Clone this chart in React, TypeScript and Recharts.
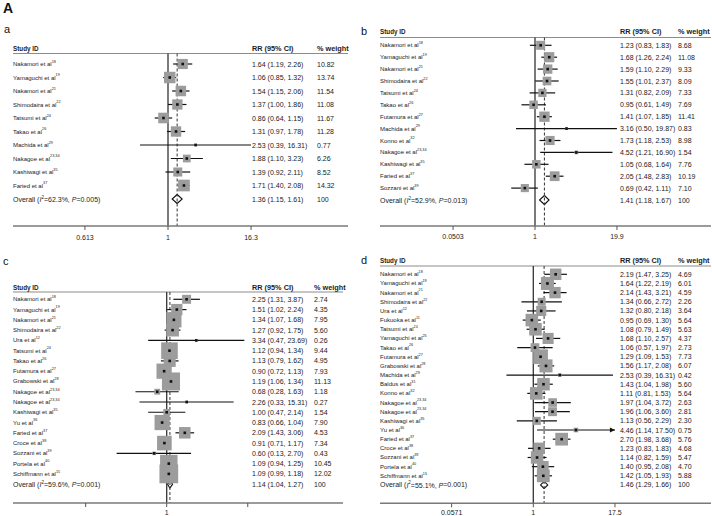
import React from 'react';
import { ComposedChart, XAxis, YAxis, Scatter, ErrorBar, ReferenceLine, ReferenceArea } from 'recharts';

const FONT = '"Liberation Sans", Arial, Helvetica, sans-serif';
const TEXT = '#222';
const BOX = '#9c9c9c';

// ---------- Panel a ----------
const aStudies = ['Nakamori et al', 'Yamaguchi et al', 'Nakamori et al', 'Shimodaira et al', 'Tatsumi et al', 'Takao et al', 'Machida et al', 'Nakagoe et al', 'Kashiwagi et al', 'Faried et al'];
const aRefs = ['18', '19', '21', '22', '24', '26', '29', '23,34', '35', '37'];
const aRR = [1.64, 1.06, 1.54, 1.37, 0.86, 1.31, 2.53, 1.88, 1.39, 1.71];
const aLow = [1.19, 0.85, 1.15, 1.0, 0.64, 0.97, 0.39, 1.1, 0.92, 1.4];
const aHigh = [2.26, 1.32, 2.06, 1.86, 1.15, 1.78, 16.31, 3.23, 2.11, 2.08];
const aWeight = [10.82, 13.74, 11.54, 11.08, 11.67, 11.28, 0.77, 6.26, 8.52, 14.32];
const aOverall = [1.36, 1.15, 1.61];
const aHet = ['62.3%', '0.005'];
const aTickValues = [0.0613, 1, 16.3];
const aTickLabels = ['0.613', '1', '16.3'];

// ---------- Panel b ----------
const bStudies = ['Nakamori et al', 'Yamaguchi et al', 'Nakamori et al', 'Shimodaira et al', 'Tatsumi et al', 'Takao et al', 'Futamura et al', 'Machida et al', 'Konno et al', 'Nakagoe et al', 'Kashiwagi et al', 'Faried et al', 'Sozzani et al'];
const bRefs = ['18', '19', '21', '22', '24', '26', '27', '29', '32', '23,34', '35', '37', '39'];
const bRR = [1.23, 1.68, 1.59, 1.55, 1.31, 0.95, 1.41, 3.16, 1.73, 4.52, 1.05, 2.05, 0.69];
const bLow = [0.83, 1.26, 1.1, 1.01, 0.82, 0.61, 1.07, 0.5, 1.18, 1.21, 0.68, 1.48, 0.42];
const bHigh = [1.83, 2.24, 2.29, 2.37, 2.09, 1.49, 1.85, 19.87, 2.53, 16.9, 1.64, 2.83, 1.11];
const bWeight = [8.68, 11.08, 9.33, 8.09, 7.33, 7.69, 11.41, 0.83, 8.98, 1.54, 7.76, 10.19, 7.1];
const bOverall = [1.41, 1.18, 1.67];
const bHet = ['52.9%', '0.013'];
const bTickValues = [0.0503, 1, 19.9];
const bTickLabels = ['0.0503', '1', '19.9'];

// ---------- Panel c ----------
const cStudies = ['Nakamori et al', 'Yamaguchi et al', 'Nakamori et al', 'Shimodaira et al', 'Ura et al', 'Tatsumi et al', 'Takao et al', 'Futamura et al', 'Grabowski et al', 'Nakagoe et al', 'Nakagoe et al', 'Kashiwagi et al', 'Yu et al', 'Faried et al', 'Croce et al', 'Sozzani et al', 'Portela et al', 'Schiffmann et al'];
const cRefs = ['18', '19', '21', '22', '12', '24', '26', '27', '28', '23,34', '23,34', '35', '36', '37', '38', '39', '40', '15'];
const cRR = [2.25, 1.51, 1.34, 1.27, 3.34, 1.12, 1.13, 0.9, 1.19, 0.68, 2.26, 1.0, 0.83, 2.09, 0.91, 0.6, 1.09, 1.09];
const cLow = [1.31, 1.02, 1.07, 0.92, 0.47, 0.94, 0.79, 0.72, 1.06, 0.28, 0.33, 0.47, 0.66, 1.43, 0.71, 0.13, 0.94, 0.99];
const cHigh = [3.87, 2.24, 1.68, 1.75, 23.69, 1.34, 1.62, 1.13, 1.34, 1.63, 15.31, 2.14, 1.04, 3.06, 1.17, 2.7, 1.25, 1.18];
const cWeight = [2.74, 4.35, 7.95, 5.6, 0.26, 9.44, 4.95, 7.93, 11.13, 1.18, 0.27, 1.54, 7.9, 4.53, 7.34, 0.43, 10.45, 12.02];
const cOverall = [1.14, 1.04, 1.27];
const cHet = ['59.6%', '0.001'];
const cTickValues = [0.0368, 1, 27.2];
const cTickLabels = ['', '1', ''];

// ---------- Panel d ----------
const dStudies = ['Nakamori et al', 'Yamaguchi et al', 'Nakamori et al', 'Shimodaira et al', 'Ura et al', 'Fukuoka et al', 'Tatsumi et al', 'Yamaguchi et al', 'Takao et al', 'Futamura et al', 'Grabowski et al', 'Machida et al', 'Baldus et al', 'Konno et al', 'Nakagoe et al', 'Nakagoe et al', 'Kashiwagi et al', 'Yu et al', 'Faried et al', 'Croce et al', 'Sozzani et al', 'Portela et al', 'Schiffmann et al'];
const dRefs = ['18', '19', '21', '22', '12', '11', '24', '25', '26', '27', '28', '29', '31', '32', '23,34', '23,34', '35', '36', '37', '38', '39', '40', '15'];
const dRR = [2.19, 1.64, 2.14, 1.34, 1.32, 0.95, 1.08, 1.68, 1.06, 1.29, 1.56, 2.53, 1.43, 1.11, 1.97, 1.96, 1.13, 4.46, 2.7, 1.23, 1.14, 1.4, 1.42];
const dLow = [1.47, 1.22, 1.43, 0.66, 0.8, 0.69, 0.79, 1.1, 0.57, 1.09, 1.17, 0.39, 1.04, 0.81, 1.04, 1.06, 0.56, 1.14, 1.98, 0.83, 0.82, 0.95, 1.05];
const dHigh = [3.25, 2.19, 3.21, 2.72, 2.18, 1.3, 1.49, 2.57, 1.97, 1.53, 2.08, 16.31, 1.98, 1.53, 3.72, 3.6, 2.29, 17.5, 3.68, 1.83, 1.59, 2.08, 1.93];
const dWeight = [4.69, 6.01, 4.59, 2.26, 3.64, 5.64, 5.63, 4.37, 2.73, 7.73, 6.07, 0.42, 5.6, 5.64, 2.63, 2.81, 2.3, 0.75, 5.76, 4.68, 5.47, 4.7, 5.88];
const dOverall = [1.46, 1.29, 1.66];
const dHet = ['55.1%', '0.001'];
const dTickValues = [0.0571, 1, 17.5];
const dTickLabels = ['0.0571', '1', '17.5'];
const dArrowLimit = 17.5;

type Layout = {
  L: number; R: number; X0: number; s: number; T: number; B: number;
  y0: number; dy: number; headerY: number; underY: number;
  colRR: number; colW: number; k: number; dh: number; tickMargin: number;
};

const AX_H = 20;
const EXTRA_R = 24;
const FS_NAME = 6;
const FS_NUM = 7;
const FS_HDR_L = 6.3;
const FS_HDR_R = 7.3;
const FS_OVERALL = 7;

const fmt = (v: number) => v.toFixed(2);

type PanelProps = {
  studies: string[]; refs: string[]; rr: number[]; low: number[]; high: number[]; weight: number[];
  overall: number[]; het: string[]; tickValues: number[]; tickLabels: string[]; lay: Layout; arrowLimit?: number;
};

function ForestPanel(p: PanelProps) {
  const { studies, refs, rr, low, high, weight, overall, het, tickValues, tickLabels, lay, arrowLimit } = p;
  const lg = Math.log10;
  const n = studies.length;
  const idx = (px: number) => (px - lay.y0) / lay.dy;
  const topIdx = idx(lay.T);
  const botIdx = idx(lay.B);
  const headerIdx = idx(lay.headerY);
  const underIdx = idx(lay.underY);
  const xMin = (lay.L - lay.X0) / lay.s;
  const xMax = (lay.R - lay.X0) / lay.s;
  const width = lay.R - lay.L + EXTRA_R;
  const height = lay.B - lay.T + AX_H;
  const hIdx = lay.dh / lay.dy;

  const rows = studies.map((s, i) => ({
    x: lg(rr[i]),
    y: i,
    w: weight[i],
    err: [lg(rr[i]) - lg(low[i]), lg(high[i]) - lg(rr[i])],
  }));
  const arrows = arrowLimit ? studies.map((s, i) => ({ x: lg(arrowLimit), y: i, hi: high[i] })).filter((r) => r.hi >= arrowLimit) : [];

  const labelRows = [
    { x: xMin, y: headerIdx, kind: 'h', i: -1 },
    ...studies.map((s, i) => ({ x: xMin, y: i, kind: 's', i })),
    { x: xMin, y: n, kind: 'o', i: n },
  ];

  const xr = lay.colRR - lay.L;
  const xw = lay.colW - lay.L;
  const txt = { fontFamily: FONT, fill: TEXT, dominantBaseline: 'central' as const };

  const labelShape = (props: any) => {
    const { cx, cy, payload } = props;
    const y = cy;
    if (payload.kind === 'h') {
      return (
        <g>
          <text x={cx} y={y} {...txt} fontSize={FS_HDR_L} fontWeight="bold">Study ID</text>
          <text x={cx + xr} y={y} {...txt} fontSize={FS_HDR_R} fontWeight="bold">RR (95% CI)</text>
          <text x={cx + xw} y={y} {...txt} fontSize={FS_HDR_R} fontWeight="bold">% weight</text>
        </g>
      );
    }
    if (payload.kind === 'o') {
      return (
        <g>
          <text x={cx} y={y} {...txt} fontSize={FS_OVERALL}>
            {'Overall ('}
            <tspan fontStyle="italic">I</tspan>
            <tspan fontSize={4.5} dy={-2.5}>2</tspan>
            <tspan dy={2.5}>{'=' + het[0] + ', '}</tspan>
            <tspan fontStyle="italic">P</tspan>
            {'=' + het[1] + ')'}
          </text>
          <text x={cx + xr} y={y} {...txt} fontSize={FS_NUM}>{`${fmt(overall[0])} (${fmt(overall[1])}, ${fmt(overall[2])})`}</text>
          <text x={cx + xw} y={y} {...txt} fontSize={FS_NUM}>100</text>
        </g>
      );
    }
    const i = payload.i;
    return (
      <g>
        <text x={cx} y={y} {...txt} fontSize={FS_NAME}>
          {studies[i]}
          <tspan fontSize={3.8} dy={-2.2}>{refs[i]}</tspan>
        </text>
        <text x={cx + xr} y={y} {...txt} fontSize={FS_NUM}>{`${fmt(rr[i])} (${fmt(low[i])}, ${fmt(high[i])})`}</text>
        <text x={cx + xw} y={y} {...txt} fontSize={FS_NUM}>{fmt(weight[i])}</text>
      </g>
    );
  };

  const boxShape = (props: any) => {
    const { cx, cy, payload } = props;
    const side = lay.k * Math.sqrt(payload.w);
    return <rect x={cx - side / 2} y={cy - side / 2} width={side} height={side} fill={BOX} />;
  };
  const pointShape = (props: any) => {
    const { cx, cy } = props;
    return <rect x={cx - 1.3} y={cy - 1.3} width={2.6} height={2.6} fill="#111" />;
  };
  const arrowShape = (props: any) => {
    const { cx, cy } = props;
    return <polygon points={`${cx},${cy} ${cx - 5},${cy - 2.6} ${cx - 5},${cy + 2.6}`} fill="#111" />;
  };
  const leftHalf = (props: any) => {
    const { x, y, width: w, height: h } = props;
    return (
      <g>
        <polygon points={`${x},${y + h / 2} ${x + w},${y} ${x + w},${y + h}`} fill="#fff" />
        <polyline points={`${x + w},${y} ${x},${y + h / 2} ${x + w},${y + h}`} fill="none" stroke="#111" strokeWidth={1.1} />
      </g>
    );
  };
  const rightHalf = (props: any) => {
    const { x, y, width: w, height: h } = props;
    return (
      <g>
        <polygon points={`${x},${y} ${x + w},${y + h / 2} ${x},${y + h}`} fill="#fff" />
        <polyline points={`${x},${y} ${x + w},${y + h / 2} ${x},${y + h}`} fill="none" stroke="#111" strokeWidth={1.1} />
      </g>
    );
  };

  const tickFmt = (v: number) => {
    let best = 0;
    tickValues.forEach((t, i) => {
      if (Math.abs(lg(t) - v) < Math.abs(lg(tickValues[best]) - v)) best = i;
    });
    return tickLabels[best];
  };

  return (
    <div style={{ position: 'absolute', left: lay.L, top: lay.T, width, height }}>
      <ComposedChart width={width} height={height} margin={{ top: 0, right: EXTRA_R, bottom: 0, left: 0 }}>
        <XAxis
          type="number"
          dataKey="x"
          domain={[xMin, xMax]}
          ticks={tickValues.map((t) => lg(t))}
          interval={0}
          tickFormatter={tickFmt}
          height={AX_H}
          axisLine={{ stroke: '#7a7a7a', strokeWidth: 1.4 }}
          tickLine={{ stroke: '#555', strokeWidth: 1 }}
          tickSize={4}
          tickMargin={lay.tickMargin}
          tick={{ fontSize: 7, fill: TEXT, fontFamily: FONT }}
        />
        <YAxis type="number" dataKey="y" domain={[topIdx, botIdx]} reversed hide width={0} />
        <ReferenceLine y={underIdx} stroke="#8c8c8c" strokeWidth={1.1} />
        <ReferenceLine segment={[{ x: 0, y: underIdx }, { x: 0, y: botIdx }]} stroke="#333" strokeWidth={1.3} />
        <ReferenceLine segment={[{ x: lg(overall[0]), y: underIdx }, { x: lg(overall[0]), y: botIdx }]} stroke="#333" strokeWidth={1} strokeDasharray="3 2" />
        <Scatter data={labelRows} shape={labelShape} isAnimationActive={false} />
        <Scatter data={rows} shape={boxShape} isAnimationActive={false} />
        <Scatter data={rows} shape={pointShape} isAnimationActive={false}>
          <ErrorBar dataKey="err" direction="x" width={0} stroke="#111" strokeWidth={1.2} />
        </Scatter>
        {arrows.length > 0 && <Scatter data={arrows} shape={arrowShape} isAnimationActive={false} />}
        <ReferenceArea x1={lg(overall[1])} x2={lg(overall[0])} y1={n - hIdx} y2={n + hIdx} shape={leftHalf} />
        <ReferenceArea x1={lg(overall[0])} x2={lg(overall[2])} y1={n - hIdx} y2={n + hIdx} shape={rightHalf} />
      </ComposedChart>
    </div>
  );
}

const layA: Layout = { L: 13, R: 348, X0: 168, s: 68.5, T: 40, B: 226, y0: 64, dy: 13.5, headerY: 48, underY: 53.5, colRR: 252, colW: 317, k: 3.09, dh: 4.5, tickMargin: 5.5 };
const layB: Layout = { L: 380, R: 711, X0: 535, s: 63.1, T: 24, B: 226, y0: 45.3, dy: 11.9, headerY: 31.7, underY: 37.5, colRR: 620, colW: 678, k: 3.05, dh: 4.5, tickMargin: 4.5 };
const layC: Layout = { L: 13, R: 343, X0: 166.7, s: 56.5, T: 278, B: 503, y0: 299.3, dy: 10.27, headerY: 287, underY: 292, colRR: 252, colW: 314, k: 5.4, dh: 4, tickMargin: 3.2 };
const layD: Layout = { L: 380, R: 711, X0: 533.3, s: 65.7, T: 252, B: 503.3, y0: 274.3, dy: 9.16, headerY: 261, underY: 266, colRR: 620, colW: 678, k: 5.3, dh: 3.6, tickMargin: 3.2 };

const lbl = (x: number, y: number, t: string, size: number, bold = false) => (
  <div style={{ position: 'absolute', left: x, top: y, fontFamily: FONT, fontSize: size, fontWeight: bold ? 'bold' : 'normal', color: '#111', lineHeight: 1 }}>{t}</div>
);

export default function App() {
  return (
    <div style={{ position: 'absolute', left: 0, top: 0, width: 712, height: 516, overflow: 'hidden', background: '#fff' }}>
      {lbl(3, 1, 'A', 14, true)}
      {lbl(4, 24, 'a', 11)}
      {lbl(361, 26, 'b', 11)}
      {lbl(3, 256, 'c', 11)}
      {lbl(361, 255, 'd', 11)}
      <ForestPanel studies={aStudies} refs={aRefs} rr={aRR} low={aLow} high={aHigh} weight={aWeight} overall={aOverall} het={aHet} tickValues={aTickValues} tickLabels={aTickLabels} lay={layA} />
      <ForestPanel studies={bStudies} refs={bRefs} rr={bRR} low={bLow} high={bHigh} weight={bWeight} overall={bOverall} het={bHet} tickValues={bTickValues} tickLabels={bTickLabels} lay={layB} />
      <ForestPanel studies={cStudies} refs={cRefs} rr={cRR} low={cLow} high={cHigh} weight={cWeight} overall={cOverall} het={cHet} tickValues={cTickValues} tickLabels={cTickLabels} lay={layC} />
      <ForestPanel studies={dStudies} refs={dRefs} rr={dRR} low={dLow} high={dHigh} weight={dWeight} overall={dOverall} het={dHet} tickValues={dTickValues} tickLabels={dTickLabels} lay={layD} arrowLimit={dArrowLimit} />
    </div>
  );
}
